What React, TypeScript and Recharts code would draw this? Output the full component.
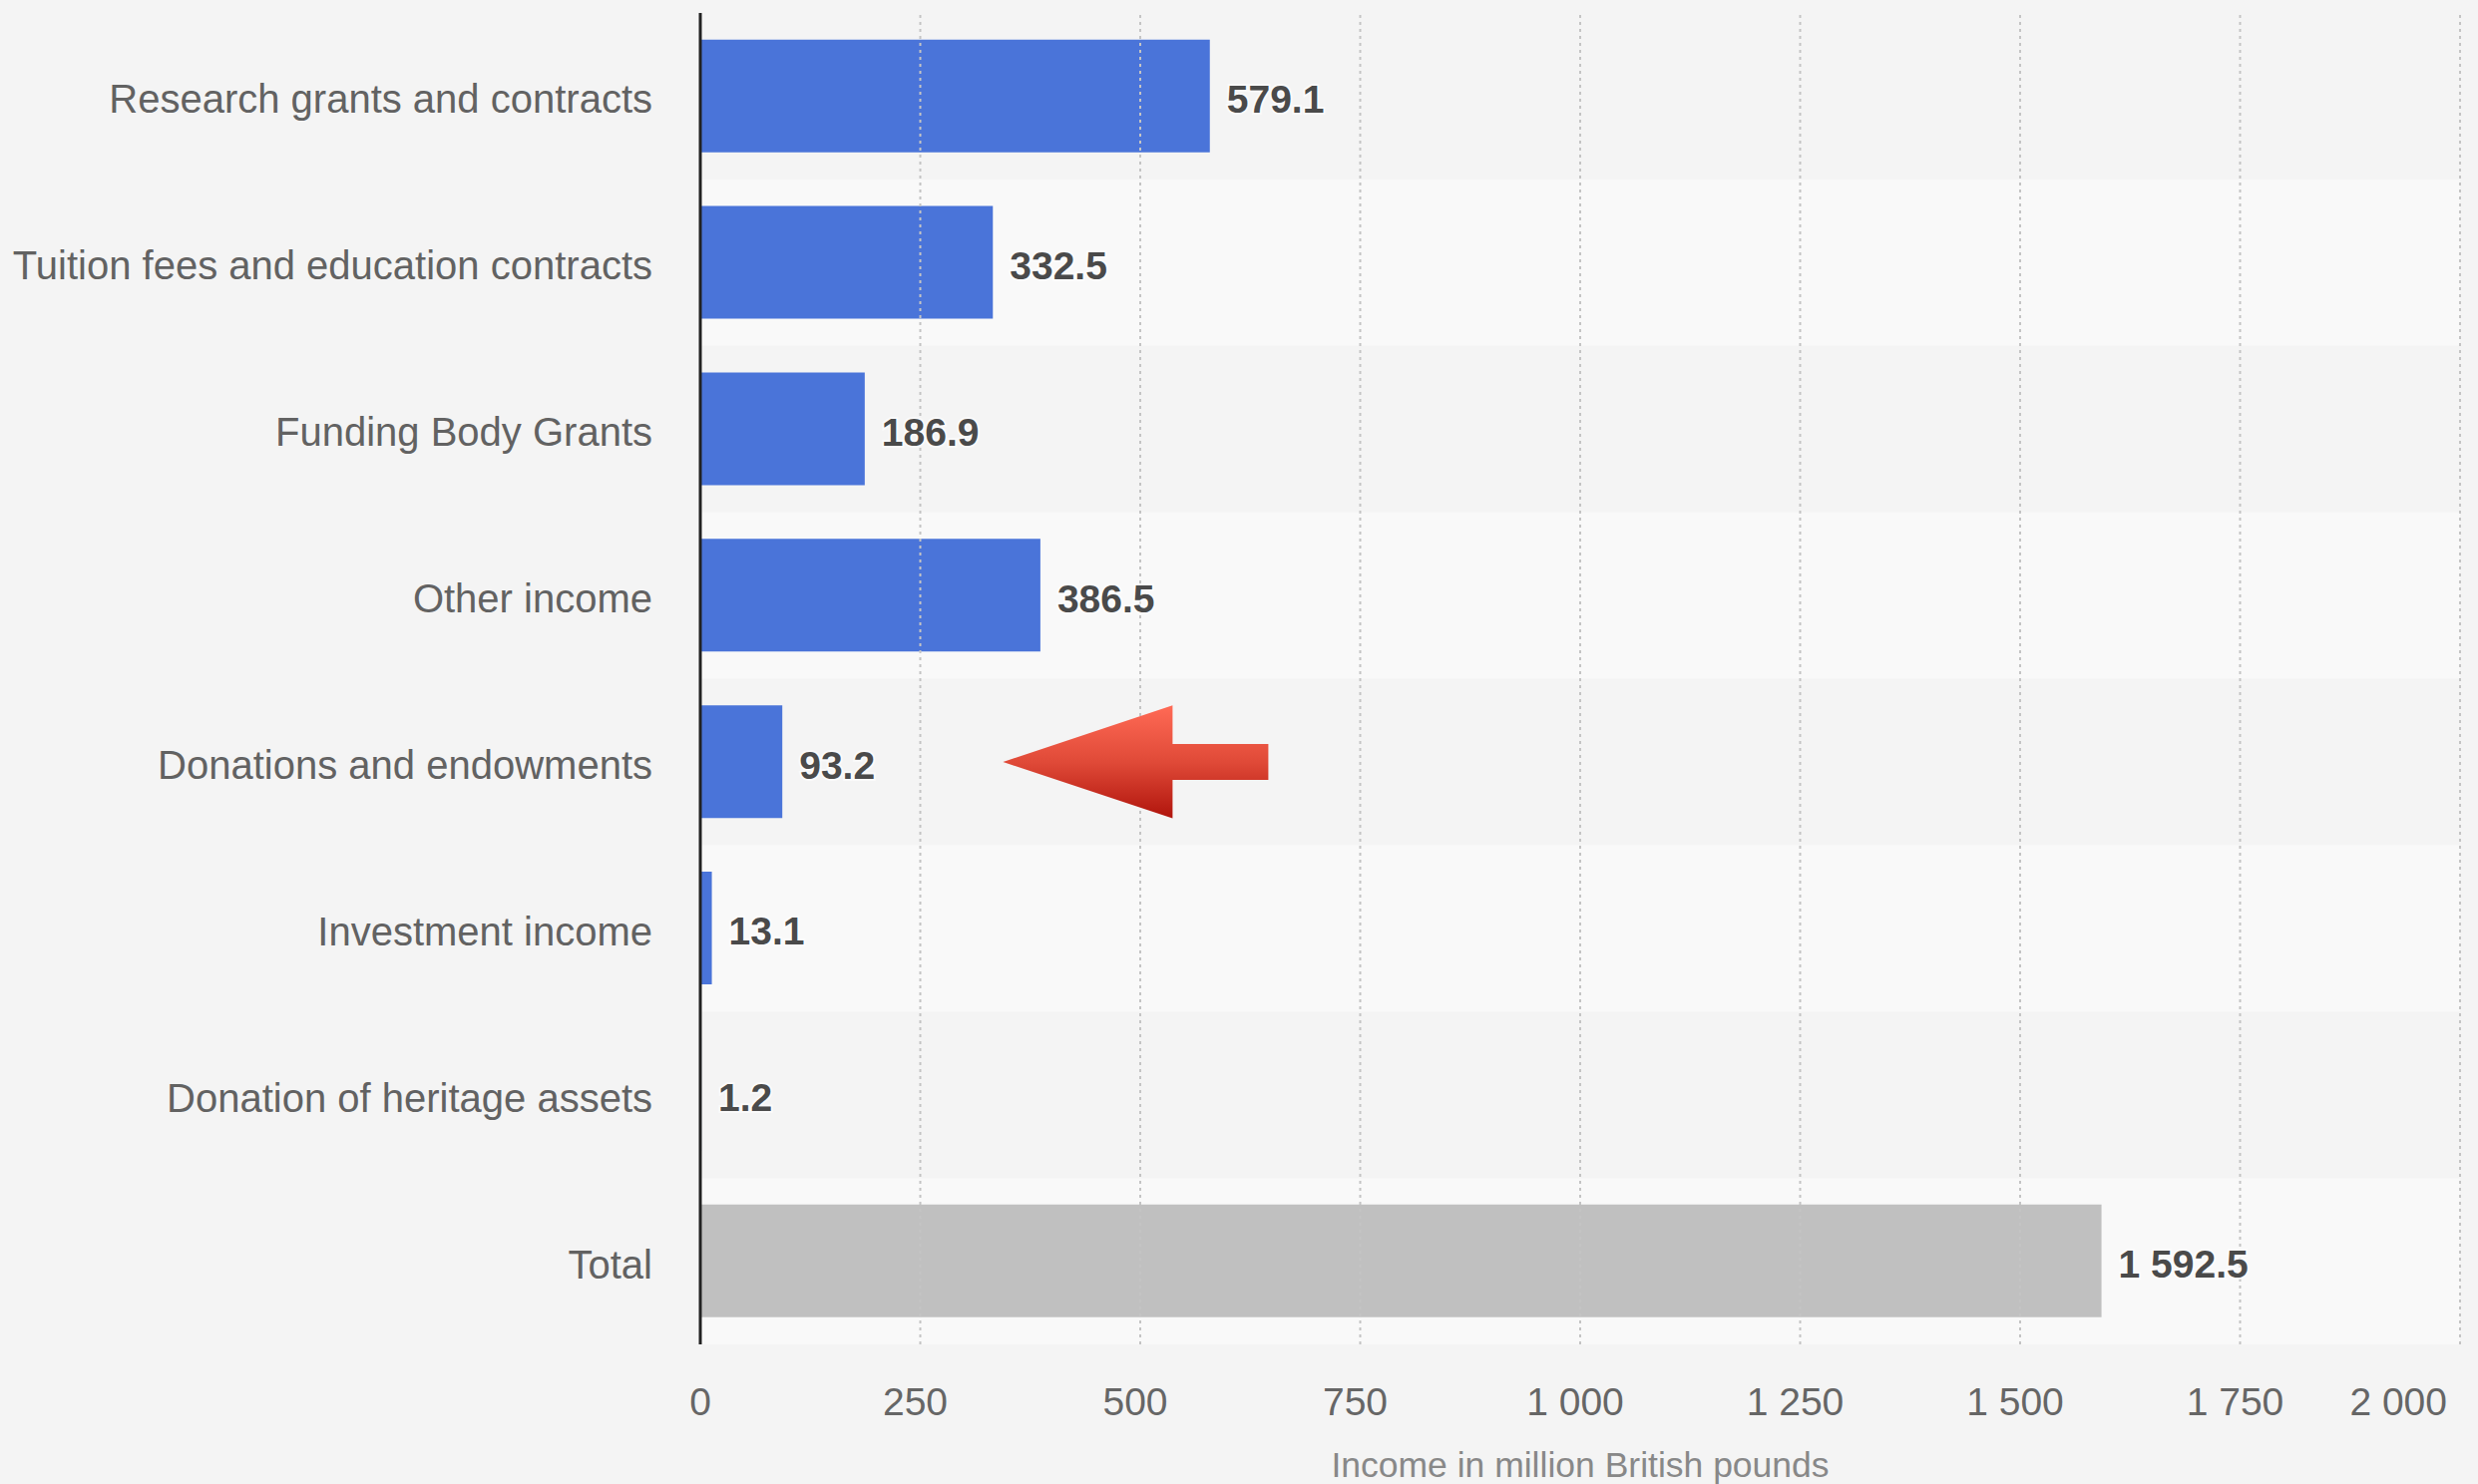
import React from "react";
import {
  BarChart,
  Bar,
  XAxis,
  YAxis,
  Cell,
  LabelList,
  ReferenceArea,
  ReferenceLine,
  ReferenceDot,
} from "recharts";

const CATEGORIES = [
  "Research grants and contracts",
  "Tuition fees and education contracts",
  "Funding Body Grants",
  "Other income",
  "Donations and endowments",
  "Investment income",
  "Donation of heritage assets",
  "Total",
];

const VALUES = [579.1, 332.5, 186.9, 386.5, 93.2, 13.1, 1.2, 1592.5];

const X_TICKS = [0, 250, 500, 750, 1000, 1250, 1500, 1750, 2000];

const AXIS_TITLE = "Income in million British pounds";

// the red arrow points at this category, tip at this x value
const ARROW_CATEGORY = "Donations and endowments";
const ARROW_X = 344;

const FONT = '"Liberation Sans", Arial, Helvetica, sans-serif';
const BLUE = "#4a74d9";
const GREY_BAR = "#c0c0c0";

const data = CATEGORIES.map((name, i) => ({ name, value: VALUES[i] }));

function fmt(v: number, decimals = 0) {
  const [int, dec] = v.toFixed(decimals).split(".");
  const grouped = int.replace(/\B(?=(\d{3})+(?!\d))/g, " ");
  return dec ? `${grouped}.${dec}` : grouped;
}

function XTick(props: any) {
  const { x, y, payload } = props;
  const last = payload.value === X_TICKS[X_TICKS.length - 1];
  const first = payload.value === X_TICKS[0];
  return (
    <text
      x={last ? x - 13 : first ? x : x - 5}
      y={y}
      dy={71}
      textAnchor={last ? "end" : "middle"}
      fill="#666"
      fontSize={39}
      fontFamily={FONT}
    >
      {fmt(payload.value)}
    </text>
  );
}

function YTick(props: any) {
  const { x, y, payload } = props;
  return (
    <text
      x={x}
      y={y}
      dy={17}
      textAnchor="end"
      fill="#626262"
      fontSize={40}
      fontFamily={FONT}
    >
      {payload.value}
    </text>
  );
}

function Arrow(props: any) {
  const { cx, cy } = props;
  if (cx == null || cy == null) return null;
  const pts = [
    [0, 0],
    [170, -56.6],
    [170, -18],
    [266, -18],
    [266, 18],
    [170, 18],
    [170, 56.6],
  ]
    .map(([dx, dy]) => `${cx + dx},${cy + dy}`)
    .join(" ");
  return (
    <g>
      <defs>
        <linearGradient id="arrowGrad" x1="0" y1="0" x2="0" y2="1">
          <stop offset="0%" stopColor="#ff6a55" />
          <stop offset="50%" stopColor="#e04a38" />
          <stop offset="100%" stopColor="#b0140c" />
        </linearGradient>
      </defs>
      <polygon points={pts} fill="url(#arrowGrad)" />
    </g>
  );
}

export default function App() {
  return (
    <div
      style={{
        position: "absolute",
        left: 0,
        top: 0,
        width: 2484,
        height: 1488,
        background: "#f4f4f4",
        fontFamily: FONT,
      }}
    >
      <BarChart
        width={2484}
        height={1488}
        data={data}
        layout="vertical"
        margin={{ top: 13, right: 18, bottom: 0, left: 0 }}
        barCategoryGap="16%"
      >
        {CATEGORIES.map((c, i) =>
          i % 2 === 1 ? (
            <ReferenceArea
              key={c}
              y1={c}
              y2={c}
              fill="#f9f9f9"
              fillOpacity={1}
              stroke="none"
            />
          ) : null
        )}
        {X_TICKS.filter((t) => t > 0).map((t) => (
          <ReferenceLine
            key={t}
            x={t}
            stroke="#c4c4c4"
            strokeWidth={2}
            strokeDasharray="3 4"
          />
        ))}
        <XAxis
          type="number"
          domain={[0, 2000]}
          ticks={X_TICKS}
          axisLine={false}
          tickLine={false}
          tickSize={0}
          tickMargin={0}
          height={140}
          tick={<XTick />}
          label={{
            value: AXIS_TITLE,
            position: "insideBottom",
            offset: 7,
            fill: "#888",
            fontSize: 35.5,
          }}
        />
        <YAxis
          type="category"
          dataKey="name"
          width={702}
          axisLine={{ stroke: "#222", strokeWidth: 3 }}
          tickLine={false}
          tickSize={0}
          tickMargin={48}
          interval={0}
          tick={<YTick />}
        />
        <Bar dataKey="value" isAnimationActive={false}>
          {data.map((d) => (
            <Cell key={d.name} fill={d.name === "Total" ? GREY_BAR : BLUE} />
          ))}
          <LabelList
            dataKey="value"
            position="right"
            offset={17}
            formatter={(v: any) => fmt(Number(v), 1)}
            fill="#4a4a4a"
            fontSize={39}
            fontWeight={700}
            stroke="rgba(255,255,255,0.6)"
            strokeWidth={4}
            paintOrder="stroke"
            dy={3}
          />
        </Bar>
        <ReferenceDot
          x={ARROW_X}
          y={ARROW_CATEGORY}
          r={0}
          shape={<Arrow />}
        />
      </BarChart>
    </div>
  );
}
